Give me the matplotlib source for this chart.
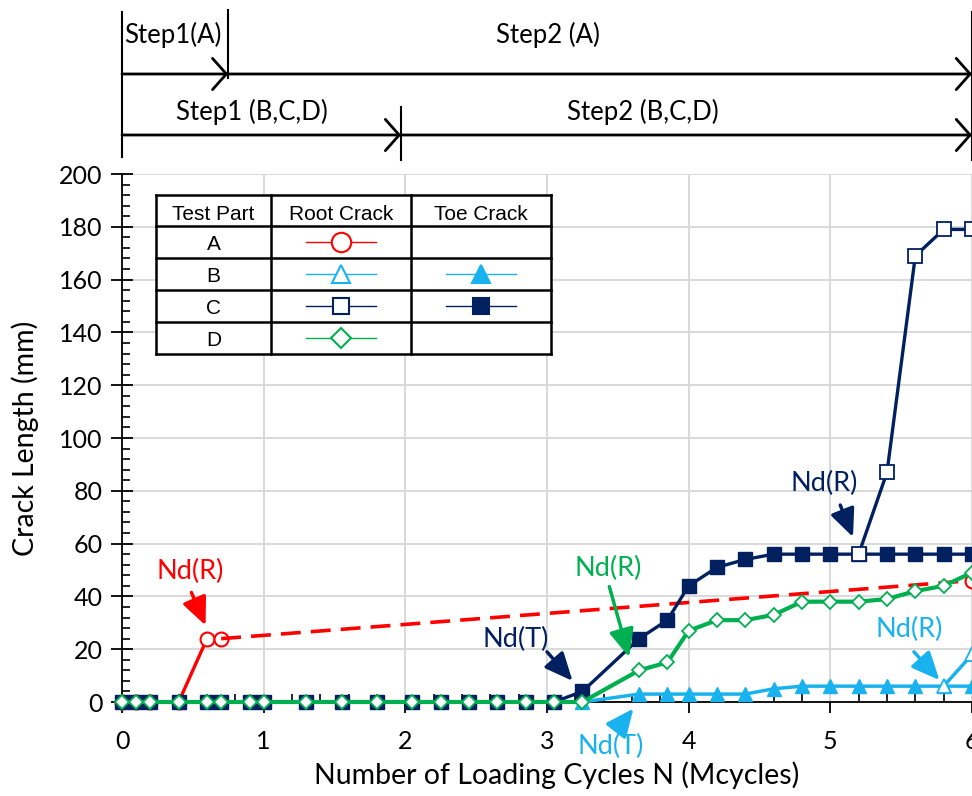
import matplotlib.pyplot as plt
from matplotlib.ticker import MultipleLocator
from matplotlib.patches import Rectangle

plt.rcParams['font.family'] = ['Lato', 'DejaVu Sans']

# shared loading-cycle stations (Mcycles)
cycles = [0, 0.1, 0.2, 0.4, 0.6, 0.7, 0.9, 1.0, 1.3, 1.55, 1.8, 2.05, 2.25, 2.45,
          2.65, 2.85, 3.05, 3.25, 3.65, 3.85, 4.0, 4.2, 4.4, 4.6, 4.8, 5.0, 5.2,
          5.4, 5.6, 5.8, 6.0]

# C toe crack (mm), all stations
toe_c = [0, 0, 0, 0, 0, 0, 0, 0, 0, 0, 0, 0, 0, 0, 0, 0, 0, 4, 24, 31, 44, 51,
         54, 56, 56, 56, 56, 56, 56, 56, 56]
# D root crack (mm), all stations
root_d = [0, 0, 0, 0, 0, 0, 0, 0, 0, 0, 0, 0, 0, 0, 0, 0, 0, 0, 12, 15, 27, 31,
          31, 33, 38, 38, 38, 39, 42, 44, 49]
# B toe crack, from 3.25 Mcycles
toe_b_x = [3.25, 3.65, 3.85, 4.0, 4.2, 4.4, 4.6, 4.8, 5.0, 5.2, 5.4, 5.6, 5.8, 6.0]
toe_b = [0, 3, 3, 3, 3, 3, 5, 6, 6, 6, 6, 6, 6, 6]
# B root crack
root_b_x = [5.8, 6.0]
root_b = [6, 18]
# C root crack
root_c_x = [5.2, 5.4, 5.6, 5.8, 6.0]
root_c = [56, 87, 169, 179, 179]
# A root crack (last segment dashed)
root_a_x = [0, 0.1, 0.2, 0.4, 0.6, 0.7, 6.0]
root_a = [0, 0, 0, 0, 24, 24, 46]

# loading steps
step_a = [0, 0.75, 6.0]
step_bcd = [0, 1.97, 6.0]

RED = '#FF0000'
LBLUE = '#1AB2EE'
NAVY = '#002060'
GREEN = '#00B050'
GRID = '#D9D9D9'

W, H = 972, 796
x0_px, x6_px = 122, 972
y0_px, ytop_px = 702, 174
ppu = (x6_px - x0_px) / 6.0
xmax = 6.4

fig = plt.figure(figsize=(W / 100, H / 100), dpi=100)
ax = fig.add_axes([x0_px / W, (H - y0_px) / H, xmax * ppu / W, (y0_px - ytop_px) / H])

ax.plot(root_a_x[:-1], root_a[:-1], color=RED, lw=2.4, marker='o', ms=10,
        mfc='white', mec=RED, mew=1.5, zorder=3, clip_on=False)
ax.plot(root_a_x[-2:], root_a[-2:], color=RED, lw=2.6, dashes=(5.5, 2.8),
        zorder=3, clip_on=False)
ax.plot(root_a_x[-1:], root_a[-1:], ls='none', marker='o', ms=10, mfc='white',
        mec=RED, mew=1.5, zorder=3, clip_on=False)

ax.plot(toe_b_x, toe_b, color=LBLUE, lw=2.5, marker='^', ms=10, mfc=LBLUE,
        mec=LBLUE, zorder=4, clip_on=False)
ax.plot(root_b_x, root_b, color=LBLUE, lw=2.5, marker='^', ms=10, mfc='white',
        mec=LBLUE, mew=1.3, zorder=4, clip_on=False)

ax.plot(cycles, toe_c, color=NAVY, lw=2.4, marker='s', ms=9.5, mfc=NAVY,
        mec=NAVY, zorder=5, clip_on=False)
ax.plot(root_c_x, root_c, color=NAVY, lw=2.4, marker='s', ms=9.5, mfc='white',
        mec=NAVY, mew=1.3, zorder=6, clip_on=False)

ax.plot(cycles, root_d, color=GREEN, lw=3.0, marker='D', ms=7, mfc='white',
        mec=GREEN, mew=1.3, zorder=7, clip_on=False)

ax.set_xlim(0, xmax)
ax.set_ylim(0, 200)
ax.set_xticks(range(0, 7))
ax.set_yticks(range(0, 201, 20))
ax.xaxis.set_minor_locator(MultipleLocator(0.2))
ax.yaxis.set_minor_locator(MultipleLocator(4))
ax.grid(True, which='major', color=GRID, lw=1.4)
ax.set_axisbelow(True)
for s in ['top', 'right']:
    ax.spines[s].set_visible(False)
for s in ['left', 'bottom']:
    ax.spines[s].set_linewidth(1.3)
    ax.spines[s].set_zorder(2)
ax.tick_params(axis='x', which='major', direction='out', length=8, width=1.3,
               labelsize=18, pad=12)
ax.tick_params(axis='x', which='minor', direction='in', length=6, width=1.2)
ax.tick_params(axis='y', which='major', direction='inout', length=16, width=1.3,
               labelsize=18, pad=6)
ax.tick_params(axis='y', which='minor', direction='in', length=6, width=1.2)

ax.set_ylabel('Crack Length (mm)', fontsize=20.5, labelpad=14)
ax.set_xlabel('Number of Loading Cycles N (Mcycles)', fontsize=20.5, labelpad=6)
ax.xaxis.label.set_x((557 - x0_px) / (xmax * ppu))

arrow_kw = dict(arrowstyle='-|>,head_length=0.85,head_width=0.38', lw=2.5,
                mutation_scale=20, shrinkA=0, shrinkB=0)
notes = [
    ('Nd(R)', RED, (0.48, 49.6), (0.49, 41.5), (0.59, 29)),
    ('Nd(T)', NAVY, (2.78, 23.5), (3.0, 19), (3.18, 8)),
    ('Nd(R)', GREEN, (3.43, 50.6), (3.44, 43.7), (3.58, 17)),
    ('Nd(T)', LBLUE, (3.45, -17), (3.50, -10), (3.61, -2.5)),
    ('Nd(R)', NAVY, (4.96, 82.8), (5.07, 74.6), (5.16, 62.5)),
    ('Nd(R)', LBLUE, (5.56, 27.3), (5.59, 19), (5.77, 8.3)),
]
for txt, col, tpos, tail, head in notes:
    ax.text(tpos[0], tpos[1], txt, color=col, fontsize=19.5, ha='center',
            va='center', zorder=10, clip_on=False)
    ax.annotate('', xy=head, xytext=tail, arrowprops=dict(color=col, **arrow_kw),
                annotation_clip=False, zorder=10)

# overlay in pixel coordinates for the step diagram and the legend table
ov = fig.add_axes([0, 0, 1, 1], zorder=5)
ov.set_xlim(0, W)
ov.set_ylim(H, 0)
ov.axis('off')
ov.patch.set_alpha(0)


def px(x):
    return x0_px + x * ppu


ov.plot([px(0)] * 2, [12, 157], color='black', lw=1.5)
ov.plot([px(step_a[1])] * 2, [10, 78], color='black', lw=1.5)
ov.plot([px(step_bcd[1])] * 2, [107, 160], color='black', lw=1.5)
ov.plot([px(6.0)] * 2, [12, 160], color='black', lw=1.5)
step_arrow = dict(arrowstyle='->,head_length=0.4,head_width=0.45', lw=2,
                  color='black', mutation_scale=25, shrinkA=0, shrinkB=0)
for steps, y in [(step_a, 74), (step_bcd, 135)]:
    for i in range(2):
        ov.annotate('', xy=(px(steps[i + 1]), y), xytext=(px(steps[i]), y),
                    arrowprops=step_arrow)
ov.text(px(0) + 2, 35, 'Step1(A)', fontsize=18.5, ha='left', va='center')
ov.text(548, 35, 'Step2 (A)', fontsize=18.5, ha='center', va='center')
ov.text(252, 112, 'Step1 (B,C,D)', fontsize=18.5, ha='center', va='center')
ov.text(643, 112, 'Step2 (B,C,D)', fontsize=18.5, ha='center', va='center')

# legend table
col_x = [156, 271, 411, 551]
row_y = [195, 226, 258, 290, 322, 354]
ov.add_patch(Rectangle((col_x[0], row_y[0]), col_x[-1] - col_x[0],
                       row_y[-1] - row_y[0], facecolor='white', edgecolor='none'))
for x in col_x:
    ov.plot([x, x], [row_y[0], row_y[-1]], color='black', lw=1.8)
for y in row_y:
    ov.plot([col_x[0], col_x[-1]], [y, y], color='black', lw=1.8)
tfont = dict(family=['Liberation Sans', 'DejaVu Sans'], fontsize=15,
             ha='center', va='center')
for i, h in enumerate(['Test Part', 'Root Crack', 'Toe Crack']):
    ov.text((col_x[i] + col_x[i + 1]) / 2, 214, h, **tfont)
parts = ['A', 'B', 'C', 'D']
root_keys = [(RED, 'o', 'white', 14), (LBLUE, '^', 'white', 13),
             (NAVY, 's', 'white', 12), (GREEN, 'D', 'white', 10)]
toe_keys = [None, (LBLUE, '^', LBLUE, 13), (NAVY, 's', NAVY, 12), None]
for i, p in enumerate(parts):
    yc = (row_y[i + 1] + row_y[i + 2]) / 2
    ov.text((col_x[0] + col_x[1]) / 2, yc + 2, p, **tfont)
    for key, c0 in [(root_keys[i], 1), (toe_keys[i], 2)]:
        if key is None:
            continue
        col, mk, fc, ms = key
        xc = (col_x[c0] + col_x[c0 + 1]) / 2
        ov.plot([xc - 35, xc + 35], [yc, yc], color=col, lw=1.0)
        ov.plot([xc], [yc], ls='none', marker=mk, ms=ms, mfc=fc, mec=col, mew=1.5)

fig.savefig('out.png', dpi=100)
